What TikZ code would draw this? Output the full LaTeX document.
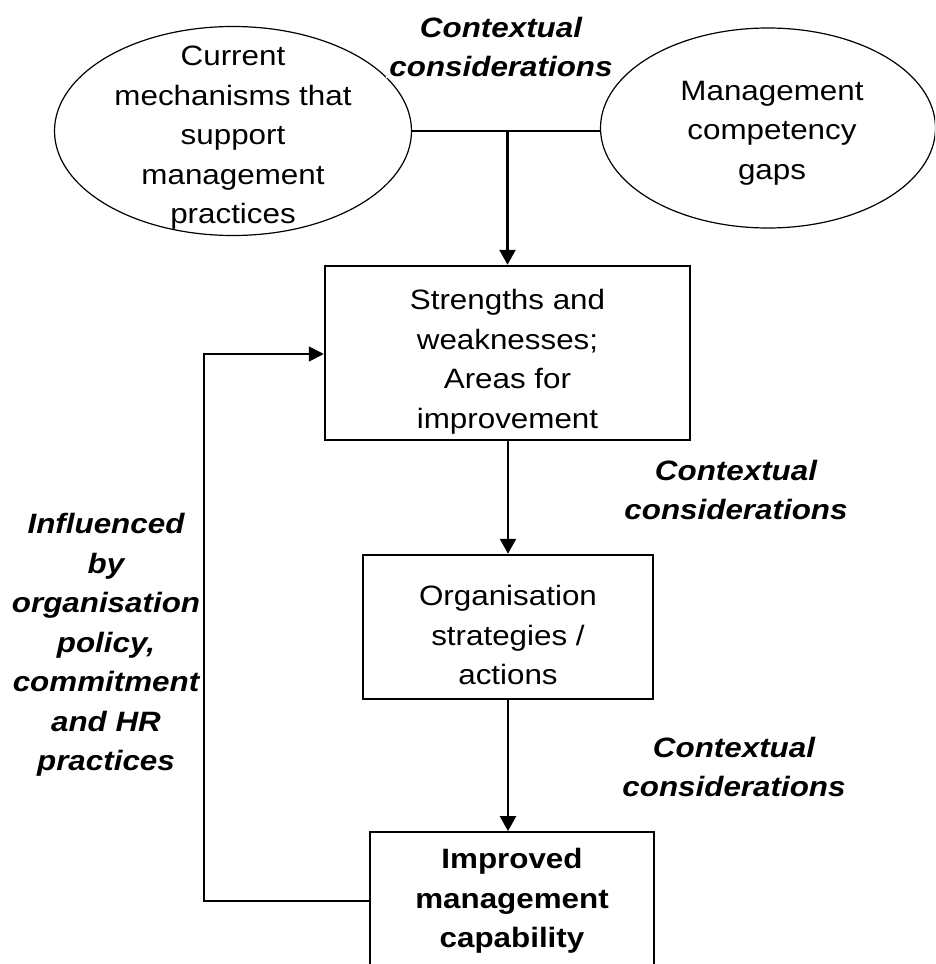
\documentclass[tikz,border=0pt]{standalone}
\usepackage{fontspec}
\setmainfont[FakeStretch=1.12]{Liberation Sans}
\usetikzlibrary{arrows.meta,shapes.geometric}
\tikzset{
  txt/.style={align=center,font=\fontsize{28}{39.5}\selectfont,inner sep=0pt},
  ctx/.style={txt,font=\fontsize{28}{39.5}\selectfont\bfseries\itshape},
  oval/.style={draw,ellipse,line width=1.2pt,inner sep=0pt},
  rbox/.style={draw,line width=2.5pt,inner sep=0pt},
  arr/.style={line width=2.5pt,-{Triangle[length=15pt,width=16pt]}},
  fb/.style={line width=1.8pt},
}
\begin{document}
\begin{tikzpicture}[x=1pt,y=-1pt]
\useasboundingbox (0,0) rectangle (935,964);
\clip (0,0) rectangle (935,964);
\fill[white] (0,0) rectangle (935,964);
% ellipses
\node[oval,minimum width=357,minimum height=209] (e1) at (233,131) {};
\node[oval,minimum width=335,minimum height=200] (e2) at (768,128) {};
\node[txt] (t1) at (233,138) {Current\\mechanisms that\\support\\management\\practices};
\node[txt] (t2) at (772,133) {Management\\competency\\gaps};
\node[ctx,fill=white,inner xsep=3pt,inner ysep=1pt] (c0) at (501,47) {Contextual\\considerations};
% boxes
\node[rbox,minimum width=365,minimum height=174] (b1) at (507.5,353) {};
\node[txt] (t3) at (507.5,362) {Strengths and\\weaknesses;\\Areas for\\improvement};
\node[rbox,minimum width=290,minimum height=144] (b2) at (508,627) {};
\node[txt] (t4) at (508,635) {Organisation\\strategies /\\actions};
\node[rbox,line width=1.8pt,minimum width=284,minimum height=170] (b3) at (512,917) {};
\node[txt,font=\fontsize{28}{39.5}\selectfont\bfseries] (t5) at (512,901) {Improved\\management\\capability};
% labels
\node[ctx] (c1) at (736,490) {Contextual\\considerations};
\node[ctx] (c2) at (734,767) {Contextual\\considerations};
\node[ctx] (c3) at (106,645) {Influenced\\by\\organisation\\policy,\\commitment\\and HR\\practices};
% connectors
\draw[line width=1.8pt] (e1.east) -- (e2.west |- e1.east);
\coordinate (j) at (b1.north |- e1.east);
\draw[arr] (j) -- (b1.north);
\draw[arr] (b1.south) -- (b2.south |- b1.south) -- (b2.north);
\draw[arr] (b2.south) -- (b2.south |- b3.north);
\coordinate (f1) at (204,901);
\coordinate (f2) at (204,354);
\draw[fb,-{Triangle[length=15pt,width=15pt]}] (b3.west |- f1) -- (f1) -- (f2) -- (b1.west |- f2);
\end{tikzpicture}
\end{document}
